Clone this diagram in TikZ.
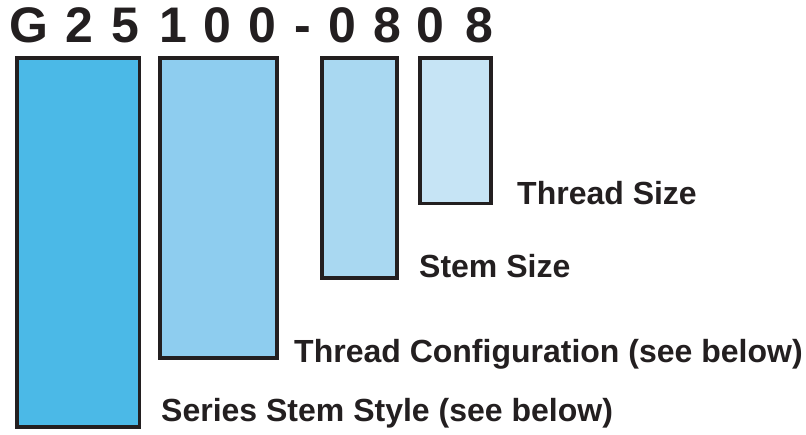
\documentclass[tikz,border=0pt]{standalone}
\usepackage{fontspec}
\setmainfont{Liberation Sans}
\usepackage{xcolor}
\usepackage{tikz}
\definecolor{ink}{HTML}{231F20}
\definecolor{seriesblue}{HTML}{4BB9E7}
\definecolor{configblue}{HTML}{8ECDEF}
\definecolor{stemblue}{HTML}{A9D8F1}
\definecolor{threadblue}{HTML}{C6E4F5}
\tikzset{
  codechar/.style={anchor=base, inner sep=0pt, text=ink,
    font=\fontsize{50}{60}\selectfont\bfseries},
  partbox/.style={draw=ink, line width=3.4pt},
  partlabel/.style={anchor=base west, inner sep=0pt, text=ink,
    font=\fontsize{32}{38}\selectfont\bfseries}
}

\begin{document}
\begin{tikzpicture}[x=1pt,y=-1pt]
      \useasboundingbox (0,0) rectangle (806,435);
      % part number
      \foreach \x/\c [count=\i] in {29/G,79.5/2,125/5,173/1,217.5/0,262.5/0,302.5/-,342.5/0,387.5/8,430.5/0,479.5/8}
        \node[codechar] (ch\i) at (\x,43) {\c};
      % boxes under the groups
      \draw[partbox, fill=seriesblue] (17,58) rectangle (139.7,427);
      \draw[partbox, fill=configblue] (160,58) rectangle (277,358);
      \draw[partbox, fill=stemblue] (322,58) rectangle (397,278);
      \draw[partbox, fill=threadblue] (420,58) rectangle (491,203.5);
      % labels
      \node[partlabel] (thread) at (517,205) {Thread Size};
      \node[partlabel] (stem) at (419,278) {Stem Size};
      \node[partlabel] (config) at (294,363) {Thread Configuration (see below)};
      \node[partlabel] (series) at (161,422) {Series Stem Style (see below)};
    \end{tikzpicture}
\end{document}
